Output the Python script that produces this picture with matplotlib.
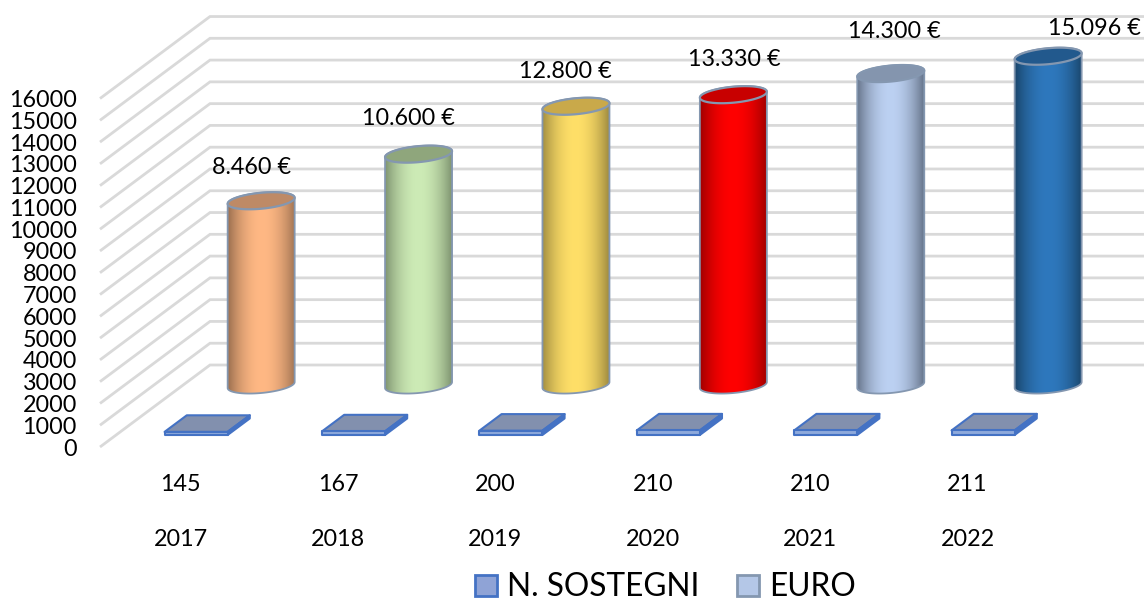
import numpy as np
import matplotlib
matplotlib.use("Agg")
import matplotlib.pyplot as plt
from matplotlib.patches import Polygon, PathPatch, Patch
from matplotlib.path import Path
from matplotlib.colors import to_rgb

# ---- data ----
years = ["2017", "2018", "2019", "2020", "2021", "2022"]
n_sostegni = [145, 167, 200, 210, 210, 211]
euro = [8460, 10600, 12800, 13330, 14300, 15096]
euro_labels = ["8.460 €", "10.600 €", "12.800 €", "13.330 €", "14.300 €", "15.096 €"]
value_ticks = list(range(0, 16001, 1000))

# ---- styles ----
cyl_mid = ["#FFB884", "#CDEBB6", "#FFDF68", "#FF0000", "#BCD1F2", "#2E78BD"]
cyl_edge = ["#9C7050", "#7F9470", "#A08C40", "#A00000", "#66748A", "#1A466C"]
cyl_top = ["#BE8A66", "#8FA67C", "#C9A94A", "#C80000", "#8495AE", "#22598D"]
label_off = [(-10.5, 34), (-11, 37), (-11, 36), (0, 36), (3, 43), (46, 29)]  # px from cylinder top

W, H, DPI = 1144, 603, 100
X0, STEP = 180.5, 157.4      # px of category 0 on the front plane, px per category
Y0, PXV = 447.0, 0.02178     # px of value 0, px per value unit
DX, DY = 110.0, 82.0         # depth of the floor in px
FONT = "Lato"
FS = 16.8
GRID = "#D9D9D9"
OUTLINE = "#8497B0"

fig = plt.figure(figsize=(W / DPI, H / DPI), dpi=DPI, facecolor="white")
ax = fig.add_axes([0, 0, 1, 1])
xlim = ((0 - X0) / STEP, (W - X0) / STEP)
ylim = ((Y0 - H) / PXV, Y0 / PXV)


def pt(cat, val, depth=0.0, ox=0.0, oy=0.0):
    """Project (category, value, depth 0-1) to data coordinates, plus px offsets."""
    return (cat + (DX * depth + ox) / STEP, val + (DY * depth + oy) / PXV)


# ---- walls / grid ----
for v in value_ticks:
    a = ((100 - X0) / STEP, v)
    b = ((210 - X0) / STEP, v + DY / PXV)
    c = (xlim[1], v + DY / PXV)
    ax.plot([a[0], b[0], c[0]], [a[1], b[1], c[1]], color=GRID, lw=2.0,
            solid_joinstyle="miter", solid_capstyle="butt", zorder=1)

# ---- N. SOSTEGNI: flat boxes ----
FB_W, FB_F, FB_HD, FB_OX = 31.5, 0.247, 0.101, -0.5
for i, n in enumerate(n_sostegni):
    f1, f2 = FB_F - FB_HD, FB_F + FB_HD
    fl = pt(i, 0, f1, FB_OX - FB_W); fr = pt(i, 0, f1, FB_OX + FB_W)
    tl = pt(i, n, f1, FB_OX - FB_W); tr = pt(i, n, f1, FB_OX + FB_W)
    bl = pt(i, n, f2, FB_OX - FB_W); br = pt(i, n, f2, FB_OX + FB_W)
    rb = pt(i, 0, f2, FB_OX + FB_W)
    kw = dict(closed=True, edgecolor="#4472C4", lw=1.5, joinstyle="round", zorder=3)
    ax.add_patch(Polygon([tl, tr, br, bl], facecolor="#8290AE", **kw))
    ax.add_patch(Polygon([fr, rb, br, tr], facecolor="#4472C4", **kw))
    ax.add_patch(Polygon([fl, fr, tr, tl], facecolor="#8FAADC", **kw))

# ---- EURO: cylinders ----
CY_A, CY_B, CY_S, CY_F, CY_OX = 33.5, 8.0, 3.0, 0.756, -2.5
for i, val in enumerate(euro):
    t = np.linspace(0, 2 * np.pi, 121)
    ex = CY_OX + CY_A * np.cos(t)
    ey = CY_B * np.sin(t) + CY_S * np.cos(t)
    t_low = np.linspace(np.pi, 2 * np.pi, 61)
    low = [pt(i, 0, CY_F, CY_OX + CY_A * np.cos(a), CY_B * np.sin(a) + CY_S * np.cos(a)) for a in t_low]
    t_up = np.linspace(0, np.pi, 61)
    upp = [pt(i, val, CY_F, CY_OX + CY_A * np.cos(a), CY_B * np.sin(a) + CY_S * np.cos(a)) for a in t_up]
    body = low + upp
    ax.add_patch(PathPatch(Path(body + [body[0]], closed=True), facecolor="none",
                           edgecolor=OUTLINE, lw=1.3, zorder=5))
    # horizontal shading
    s = np.abs(np.linspace(-1, 1, 200)) ** 2.0
    mid, edge = np.array(to_rgb(cyl_mid[i])), np.array(to_rgb(cyl_edge[i]))
    grad = (mid[None, :] * (1 - s[:, None]) + edge[None, :] * s[:, None])[None, :, :]
    xa = pt(i, 0, CY_F, CY_OX - CY_A)[0]; xb = pt(i, 0, CY_F, CY_OX + CY_A)[0]
    ya = pt(i, 0, CY_F, 0, -12)[1]; yb = pt(i, val, CY_F, 0, 12)[1]
    im = ax.imshow(grad, extent=[xa, xb, ya, yb], aspect="auto", origin="lower",
                   interpolation="bilinear", zorder=4)
    im.set_clip_path(PathPatch(Path(body + [body[0]], closed=True), transform=ax.transData))
    top = [pt(i, val, CY_F, x, y) for x, y in zip(ex, ey)]
    ax.add_patch(Polygon(top, closed=True, facecolor=cyl_top[i], edgecolor=OUTLINE,
                         lw=1.6, zorder=6))
    ox, oy = label_off[i]
    ax.annotate(euro_labels[i], xy=pt(i, val, CY_F), xytext=((ox + CY_OX + 0.5) * 72 / DPI, (oy - 1) * 72 / DPI),
                textcoords="offset points", ha="center", va="center",
                fontsize=FS, family=FONT, color="black", zorder=8)

# ---- N. SOSTEGNI values under the floor ----
for i, n in enumerate(n_sostegni):
    ax.text(i, (Y0 - 484.5) / PXV, str(n), ha="center", va="center",
            fontsize=FS, family=FONT, color="black", zorder=8)

# ---- axes ----
ax.set_xlim(*xlim)
ax.set_ylim(*ylim)
for sp in ax.spines.values():
    sp.set_visible(False)
ax.set_yticks(value_ticks)
ax.set_yticklabels([str(v) for v in value_ticks], fontsize=FS, family=FONT)
ax.tick_params(axis="y", length=0, pad=-77 * 72 / DPI)
ax.set_xticks(range(len(years)))
ax.set_xticklabels(years, fontsize=FS, family=FONT)
ax.tick_params(axis="x", length=0, pad=-(H - 529) * 72 / DPI)

# ---- legend ----
handles = [Patch(facecolor="#8FA3D6", edgecolor="#4472C4", lw=2, label="N. SOSTEGNI"),
           Patch(facecolor="#B4C7E7", edgecolor="#8497B0", lw=2, label="EURO")]
ax.legend(handles=handles, loc="lower left", bbox_to_anchor=(475 / W, 1 - 602.5 / H),
          ncol=2, frameon=False, prop={"family": FONT, "size": 22.8}, handlelength=0.68,
          handleheight=0.68, handletextpad=0.33, columnspacing=1.2, borderpad=0,
          borderaxespad=0)

fig.savefig("out.png", dpi=DPI, facecolor="white")
